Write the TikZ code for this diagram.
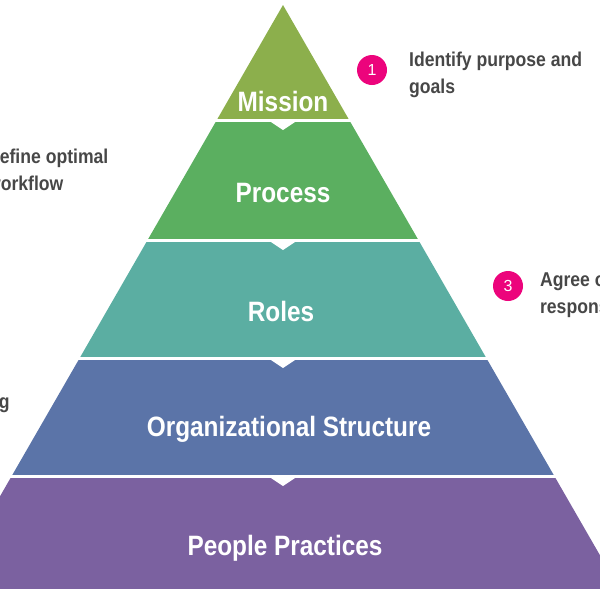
\documentclass[tikz,border=0pt]{standalone}
\usepackage{fontspec}
\setmainfont{Liberation Sans}
\begin{document}
\begin{tikzpicture}[x=1pt,y=-1pt,
  lvl/.style={text=white,font=\fontsize{28}{32}\selectfont\bfseries,xscale=0.87,transform shape},
  side/.style={text=black!72,font=\fontsize{20}{27}\selectfont\bfseries,align=left,anchor=north west,xscale=0.88,transform shape},
  numc/.style={circle,fill=magenta!85!red,text=white,minimum size=30pt,inner sep=0pt,font=\fontsize{16}{16}\selectfont},
  sep/.style={white,line width=3pt}]
\useasboundingbox (0,0) rectangle (600,600);
\clip (0,0) rectangle (600,600);
\definecolor{cM}{HTML}{8CAF4C}
\definecolor{cP}{HTML}{5BAF60}
\definecolor{cR}{HTML}{5BAEA2}
\definecolor{cO}{HTML}{5B74A8}
\definecolor{cPP}{HTML}{7B61A0}
\fill[cM] (283,5) -- (349.2,120) -- (216.8,120) -- cycle;
\fill[cP] (216.8,120) -- (349.2,120) -- (418.4,240) -- (147.6,240) -- cycle;
\fill[cR] (147.6,240) -- (418.4,240) -- (486.3,358) -- (79.7,358) -- cycle;
\fill[cO] (79.7,358) -- (486.3,358) -- (554.3,476) -- (11.7,476) -- cycle;
\fill[cPP] (11.7,476) -- (554.3,476) -- (620,590) -- (-54,590) -- cycle;
\foreach \y/\l/\r in {120/210/356,240/140/426,358/70/494,476/0/565,590/-60/630}{
  \draw[sep] (\l,\y) -- (\r,\y);
  \fill[white] (268,\y) -- (298,\y) -- (283,\y+10) -- cycle;
}
\node[lvl] (m) at (283,101) {Mission};
\node[lvl] (p) at (283,193) {Process};
\node[lvl] (r) at (281,311) {Roles};
\node[lvl] (o) at (289,429) {Organizational Structure};
\node[lvl] (pp) at (285,548) {People Practices};
\node[numc] (n1) at (372,70) {1};
\node[side] (t1) at (406,48) {Identify purpose and\\goals};
\node[numc] (n3) at (508,286) {3};
\node[side] (t3) at (537,268) {Agree on roles and\\responsibilities};
\node[side] (t2) at (-16,145) {Define optimal\\workflow};
\node[side] (t4) at (-64,390) {Aligning};
\end{tikzpicture}
\end{document}
